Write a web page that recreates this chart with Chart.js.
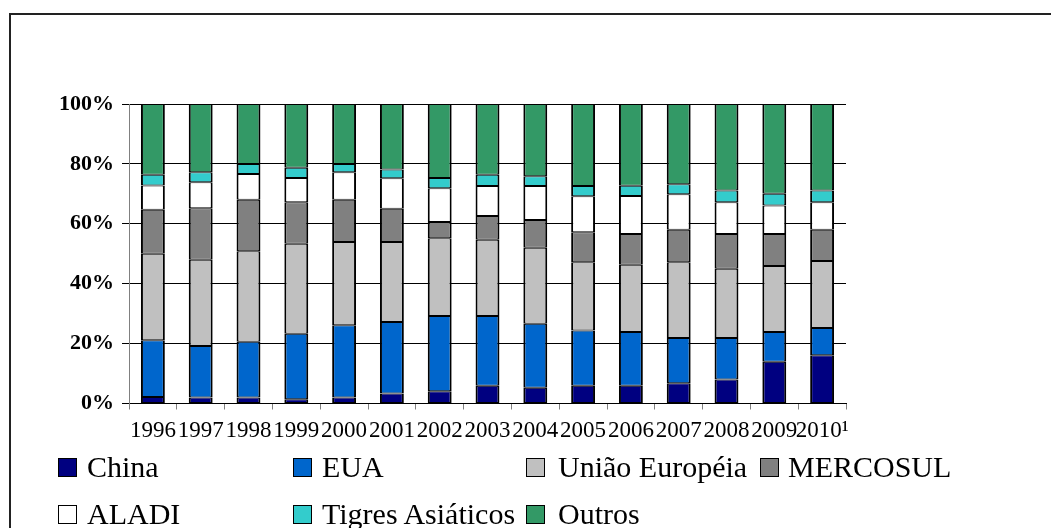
<!DOCTYPE html>
<html>
<head>
<meta charset="utf-8">
<script src="https://cdn.jsdelivr.net/npm/chart.js@4/dist/chart.umd.min.js"></script>
<style>
  body { margin: 0; background: #fff; }
  #wrap { position: relative; width: 1051px; height: 528px; overflow: hidden; }
  #frame { position: absolute; left: 9px; top: 13px; width: 1100px; height: 600px; border-left: 2px solid #222; border-top: 2px solid #222; }
  #myChart { position: absolute; left: 0; top: 0; }
  .legend-box { position: absolute; width: 17px; height: 17px; border: 1px solid #000; }
  .legend-text { position: absolute; font-family: 'Liberation Serif', serif; font-size: 30px; line-height: 30px; color: #000; white-space: nowrap; }
</style>
</head>
<body>
<div id="wrap">
  <div id="frame"></div>
  <canvas id="myChart" width="1051" height="528"></canvas>
  <div id="legend"></div>
</div>
<script>
// data (percent share per year)
const years = ['1996', '1997', '1998', '1999', '2000', '2001', '2002', '2003', '2004', '2005', '2006', '2007', '2008', '2009', '2010\u00b9'];
const china = [2.2, 2.0, 2.0, 1.4, 2.0, 3.3, 4.1, 5.9, 5.3, 5.9, 5.9, 6.8, 8.0, 13.9, 16.1];
const eua = [18.9, 17.2, 18.6, 21.9, 24.1, 23.9, 25.1, 23.3, 21.3, 18.5, 18.0, 15.1, 13.9, 10.0, 9.1];
const uniaoEuropeia = [28.9, 28.8, 30.2, 30.0, 27.8, 26.7, 26.0, 25.5, 25.4, 22.8, 22.4, 25.3, 23.1, 22.0, 22.4];
const mercosul = [14.7, 17.2, 17.2, 13.9, 14.1, 11.1, 5.4, 7.9, 9.3, 10.0, 10.3, 10.8, 11.6, 10.7, 10.4];
const aladi = [8.1, 8.7, 8.6, 8.1, 9.2, 10.2, 11.3, 10.0, 11.3, 12.0, 12.7, 11.9, 10.6, 9.5, 9.2];
const tigres = [3.6, 3.3, 3.4, 3.4, 2.8, 2.9, 3.4, 3.8, 3.3, 3.4, 3.4, 3.3, 3.9, 3.9, 3.9];
const outros = [23.6, 22.8, 20.0, 21.3, 20.0, 21.9, 24.7, 23.6, 24.1, 27.4, 27.3, 26.8, 28.9, 30.0, 28.9];

const seriesNames = ['China', 'EUA', 'União Européia', 'MERCOSUL', 'ALADI', 'Tigres Asiáticos', 'Outros'];
const seriesValues = [china, eua, uniaoEuropeia, mercosul, aladi, tigres, outros];
const seriesColors = ['#000080', '#0066CC', '#C0C0C0', '#808080', '#FFFFFF', '#33CCCC', '#339966'];

const serif = "'Liberation Serif', 'Times New Roman', serif";

const ctx = document.getElementById('myChart').getContext('2d');

const datasets = seriesNames.map((name, i) => ({
  label: name,
  data: seriesValues[i],
  backgroundColor: seriesColors[i],
  borderColor: '#000',
  borderWidth: { top: 1, bottom: 1, left: 2, right: 2 },
  borderSkipped: false,
  barPercentage: 0.5,
  categoryPercentage: 1.0,
}));

const myChart = new Chart(ctx, {
  type: 'bar',
  data: { labels: years, datasets: datasets },
  options: {
    responsive: false,
    animation: false,
    layout: { padding: { left: 0, top: 104, right: 205, bottom: 0 } },
    plugins: { legend: { display: false }, tooltip: { enabled: false } },
    scales: {
      x: {
        stacked: true,
        offset: true,
        grid: { display: true, drawOnChartArea: false, drawTicks: true, tickLength: 6, color: '#808080', offset: true },
        border: { display: true, color: '#000', width: 1 },
        ticks: { color: '#000', font: { family: serif, size: 23 }, padding: 8, maxRotation: 0, autoSkip: false },
        afterFit: (scale) => { scale.height = 124.5; },
      },
      y: {
        stacked: true,
        min: 0,
        max: 100,
        grid: { color: '#000', lineWidth: 1, tickLength: 7, tickColor: '#000' },
        border: { display: true, color: '#808080', width: 1 },
        ticks: {
          stepSize: 20,
          color: '#000',
          padding: 8,
          font: { family: serif, size: 22, weight: 'bold' },
          callback: (v) => v + '%',
        },
        afterFit: (scale) => { scale.width = 129; },
      },
    },
  },
});

// legend, laid out as a grid like the original
const legendEl = document.getElementById('legend');
const colBox = [58, 293, 526, 760];
const colText = [87, 322, 558, 788];
const rowBox = [458, 505];
const rowText = [452, 499];

seriesNames.forEach((name, i) => {
  const col = i % 4;
  const row = Math.floor(i / 4);
  const box = document.createElement('div');
  box.className = 'legend-box';
  box.style.left = colBox[col] + 'px';
  box.style.top = rowBox[row] + 'px';
  box.style.background = seriesColors[i];
  legendEl.appendChild(box);

  const text = document.createElement('div');
  text.className = 'legend-text';
  text.style.left = colText[col] + 'px';
  text.style.top = rowText[row] + 'px';
  text.textContent = name;
  legendEl.appendChild(text);
});
</script>
</body>
</html>
